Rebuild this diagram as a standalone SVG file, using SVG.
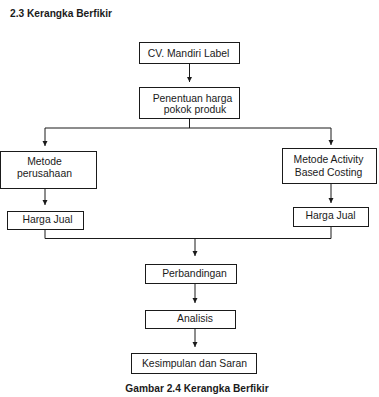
<svg xmlns="http://www.w3.org/2000/svg" width="379" height="397" viewBox="0 0 379 397">
<style>
.box{fill:#fff;stroke:#1a1a1a;stroke-width:1}
.t{font-family:"Liberation Sans",Arial,sans-serif;font-size:10.4px;fill:#1a1a1a;text-anchor:middle}
.h{font-family:"Liberation Sans",Arial,sans-serif;font-size:10.2px;font-weight:bold;fill:#1a1a1a}
.c{fill:none;stroke:#1a1a1a;stroke-width:1}
</style>
<defs>
<marker id="ah" markerUnits="userSpaceOnUse" markerWidth="6" markerHeight="6" refX="5" refY="2.5" orient="auto">
<path d="M0,0 L5,2.5 L0,5 z" fill="#1a1a1a"/>
</marker>
</defs>
<rect width="379" height="397" fill="#fff"/>
<text class="h" x="10" y="17">2.3 Kerangka Berfikir</text>

<g id="connectors">
<line class="c" x1="189.5" y1="63" x2="189.5" y2="82" marker-end="url(#ah)"/>
<line class="c" x1="189.5" y1="118" x2="189.5" y2="128"/>
<line class="c" x1="45" y1="128" x2="331" y2="128"/>
<line class="c" x1="45" y1="128" x2="45" y2="146" marker-end="url(#ah)"/>
<line class="c" x1="331" y1="128" x2="331" y2="145" marker-end="url(#ah)"/>
<line class="c" x1="45" y1="188" x2="45" y2="205" marker-end="url(#ah)"/>
<line class="c" x1="331" y1="183" x2="331" y2="203" marker-end="url(#ah)"/>
<polyline class="c" points="45,229.5 45,238.5 331,238.5 331,226"/>
<line class="c" x1="195" y1="238.5" x2="195" y2="256" marker-end="url(#ah)"/>
<line class="c" x1="195" y1="283" x2="195" y2="303" marker-end="url(#ah)"/>
<line class="c" x1="195" y1="328" x2="195" y2="347" marker-end="url(#ah)"/>
</g>

<g id="cv">
<rect class="box" x="139.5" y="42.5" width="100" height="21"/>
<text class="t" x="188.5" y="57">CV. Mandiri Label</text>
</g>
<g id="penentuan">
<rect class="box" x="139.5" y="87.5" width="100" height="31"/>
<text class="t" x="192.5" y="102">Penentuan harga</text>
<text class="t" x="195" y="113">pokok produk</text>
</g>
<g id="metode-perusahaan">
<rect class="box" x="0.5" y="151.5" width="96" height="37"/>
<text class="t" x="44.5" y="164.5">Metode</text>
<text class="t" x="44.5" y="177">perusahaan</text>
</g>
<g id="metode-abc">
<rect class="box" x="282.5" y="148.5" width="94" height="35"/>
<text class="t" x="328.5" y="163">Metode Activity</text>
<text class="t" x="328.5" y="176">Based Costing</text>
</g>
<g id="harga-jual-kiri">
<rect class="box" x="7.5" y="211.5" width="76" height="18"/>
<text class="t" x="47.5" y="223">Harga Jual</text>
</g>
<g id="harga-jual-kanan">
<rect class="box" x="293.5" y="207.5" width="75" height="19"/>
<text class="t" x="330.5" y="219">Harga Jual</text>
</g>
<g id="perbandingan">
<rect class="box" x="145.5" y="264.5" width="91" height="19"/>
<text class="t" x="194.5" y="277">Perbandingan</text>
</g>
<g id="analisis">
<rect class="box" x="145.5" y="310.5" width="90" height="18"/>
<text class="t" x="195" y="322">Analisis</text>
</g>
<g id="kesimpulan">
<rect class="box" x="131.5" y="353.5" width="125" height="20"/>
<text class="t" x="194.5" y="367">Kesimpulan dan Saran</text>
</g>
<text class="h" x="197" y="392" text-anchor="middle">Gambar 2.4 Kerangka Berfikir</text>
</svg>
